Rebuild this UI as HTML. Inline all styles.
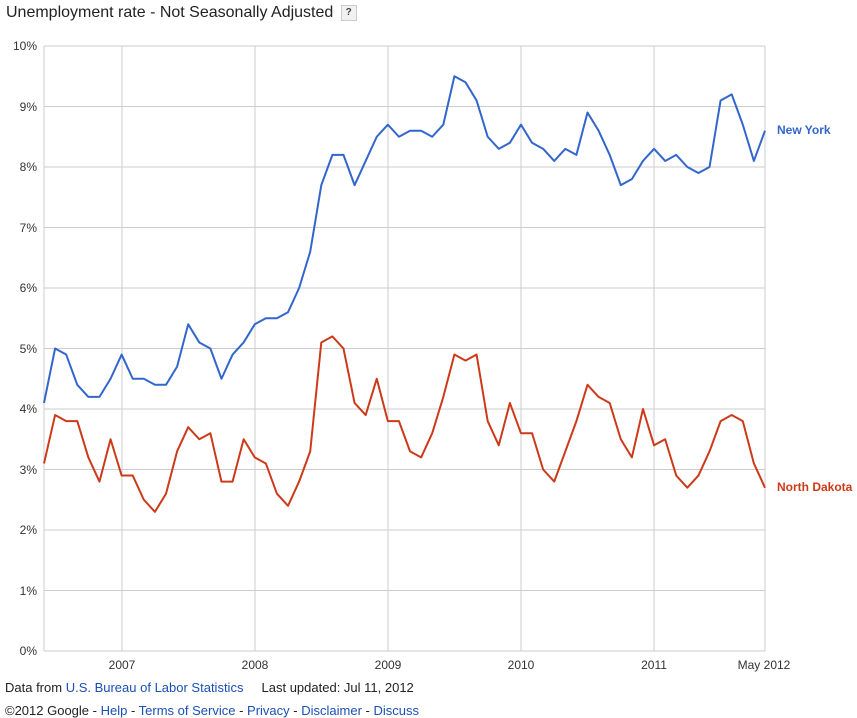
<!DOCTYPE html>
<html><head><meta charset="utf-8"><style>
body{margin:0;background:#fff;width:857px;height:718px;overflow:hidden;font-family:"Liberation Sans",Arial,sans-serif;}
.t{position:absolute;left:6px;top:4px;font-size:16px;color:#222;}
.q{display:inline-block;width:14px;height:14px;border:1px solid #ccc;background:#f1f1f1;font-size:10px;text-align:center;line-height:14px;vertical-align:2px;margin-left:3px;color:#444;font-weight:bold}
.f{position:absolute;left:5px;font-size:13px;color:#222;}
a{color:#1a4fb5;text-decoration:none}
</style></head><body>
<div class="t">Unemployment rate - Not Seasonally Adjusted <span class="q">?</span></div>
<svg width="857" height="718" style="position:absolute;left:0;top:0">
<g stroke="#ccc" stroke-width="1" shape-rendering="crispEdges">
<line x1="44" y1="46" x2="765" y2="46"/><line x1="44" y1="106.5" x2="765" y2="106.5"/><line x1="44" y1="167" x2="765" y2="167"/><line x1="44" y1="227.5" x2="765" y2="227.5"/><line x1="44" y1="288" x2="765" y2="288"/><line x1="44" y1="348.5" x2="765" y2="348.5"/><line x1="44" y1="409" x2="765" y2="409"/><line x1="44" y1="469.5" x2="765" y2="469.5"/><line x1="44" y1="530" x2="765" y2="530"/><line x1="44" y1="590.5" x2="765" y2="590.5"/><line x1="44" y1="651" x2="765" y2="651"/>
<line x1="44" y1="46" x2="44" y2="651"/><line x1="122" y1="46" x2="122" y2="651"/><line x1="255" y1="46" x2="255" y2="651"/><line x1="388" y1="46" x2="388" y2="651"/><line x1="521" y1="46" x2="521" y2="651"/><line x1="654" y1="46" x2="654" y2="651"/><line x1="765" y1="46" x2="765" y2="651"/>
</g>
<g font-size="12" fill="#333" text-anchor="end">
<text x="37" y="50">10%</text><text x="37" y="111">9%</text><text x="37" y="171">8%</text><text x="37" y="232">7%</text><text x="37" y="292">6%</text><text x="37" y="353">5%</text><text x="37" y="413">4%</text><text x="37" y="474">3%</text><text x="37" y="534">2%</text><text x="37" y="595">1%</text><text x="37" y="655">0%</text>
</g>
<g font-size="12" fill="#333" text-anchor="middle">
<text x="122" y="669">2007</text><text x="255" y="669">2008</text><text x="388" y="669">2009</text><text x="521" y="669">2010</text><text x="654" y="669">2011</text><text x="764" y="669">May 2012</text>
</g>
<g transform="translate(44,651) scale(11.092,-60.5)" fill="none" stroke-width="2" stroke-linejoin="round">
<polyline vector-effect="non-scaling-stroke" stroke="#3366cc" points="0,4.1 1,5.0 2,4.9 3,4.4 4,4.2 5,4.2 6,4.5 7,4.9 8,4.5 9,4.5 10,4.4 11,4.4 12,4.7 13,5.4 14,5.1 15,5.0 16,4.5 17,4.9 18,5.1 19,5.4 20,5.5 21,5.5 22,5.6 23,6.0 24,6.6 25,7.7 26,8.2 27,8.2 28,7.7 29,8.1 30,8.5 31,8.7 32,8.5 33,8.6 34,8.6 35,8.5 36,8.7 37,9.5 38,9.4 39,9.1 40,8.5 41,8.3 42,8.4 43,8.7 44,8.4 45,8.3 46,8.1 47,8.3 48,8.2 49,8.9 50,8.6 51,8.2 52,7.7 53,7.8 54,8.1 55,8.3 56,8.1 57,8.2 58,8.0 59,7.9 60,8.0 61,9.1 62,9.2 63,8.7 64,8.1 65,8.6"/>
<polyline vector-effect="non-scaling-stroke" stroke="#cc3a1a" points="0,3.1 1,3.9 2,3.8 3,3.8 4,3.2 5,2.8 6,3.5 7,2.9 8,2.9 9,2.5 10,2.3 11,2.6 12,3.3 13,3.7 14,3.5 15,3.6 16,2.8 17,2.8 18,3.5 19,3.2 20,3.1 21,2.6 22,2.4 23,2.8 24,3.3 25,5.1 26,5.2 27,5.0 28,4.1 29,3.9 30,4.5 31,3.8 32,3.8 33,3.3 34,3.2 35,3.6 36,4.2 37,4.9 38,4.8 39,4.9 40,3.8 41,3.4 42,4.1 43,3.6 44,3.6 45,3.0 46,2.8 47,3.3 48,3.8 49,4.4 50,4.2 51,4.1 52,3.5 53,3.2 54,4.0 55,3.4 56,3.5 57,2.9 58,2.7 59,2.9 60,3.3 61,3.8 62,3.9 63,3.8 64,3.1 65,2.7"/>
</g>
<text x="777" y="134" font-size="12" font-weight="bold" fill="#3366cc">New York</text>
<text x="777" y="491" font-size="12" font-weight="bold" fill="#cc3a1a">North Dakota</text>
</svg>
<div class="f" style="top:680px">Data from <a>U.S. Bureau of Labor Statistics</a>&nbsp;&nbsp;&nbsp;&nbsp; Last updated: Jul 11, 2012</div>
<div class="f" style="top:703px">©2012 Google - <a>Help</a> - <a>Terms of Service</a> - <a>Privacy</a> - <a>Disclaimer</a> - <a>Discuss</a></div>
</body></html>
